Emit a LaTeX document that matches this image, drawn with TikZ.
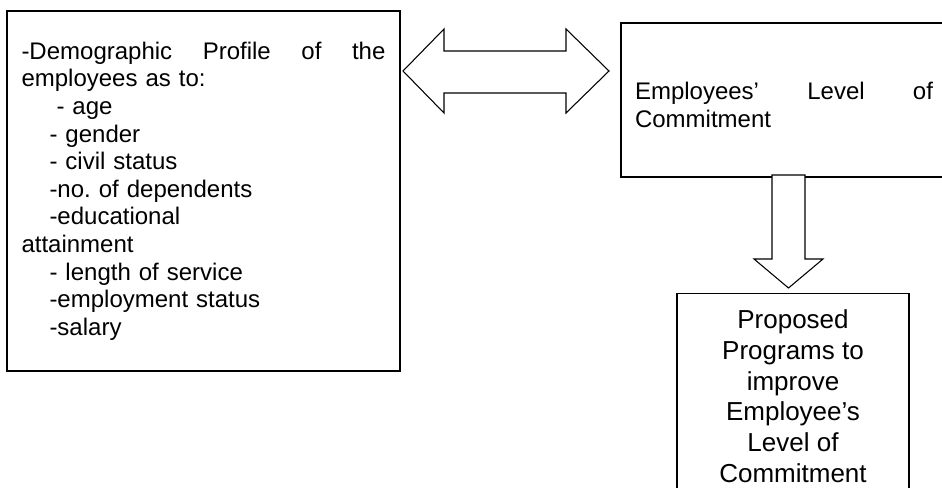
\documentclass[tikz,border=0pt]{standalone}
\usepackage{fontspec}
\setmainfont{Liberation Sans}
\frenchspacing
\begin{document}
\begin{tikzpicture}[x=0.75pt,y=-0.75pt,
  box/.style={draw=black, rectangle, align=left, inner ysep=0pt},
  bodytext/.style={font=\fontsize{18}{20.7}\selectfont},
  blockarrow/.style={draw=black, line width=0.8pt, fill=white, line join=miter}]
\useasboundingbox (0,0) rectangle (942,488);
% profile of the employees
\node [box, bodytext, line width=1.5pt, text width=273pt, inner xsep=10.9pt,
  minimum width=294.8pt, minimum height=270pt] (demog) at (203.5,191)
  {\makebox[\linewidth]{-Demographic\hfill Profile\hfill of\hfill the}\\
   employees as to:\\
   \hspace*{26.25pt}- age\\
   \hspace*{21pt}- gender\\
   \hspace*{21pt}- civil status\\
   \hspace*{21pt}-no. of dependents\\
   \hspace*{21pt}-educational\\
   attainment\\
   \hspace*{21pt}- length of service\\
   \hspace*{21pt}-employment status\\
   \hspace*{21pt}-salary};
% level of commitment (runs past the right margin)
\node [box, bodytext, line width=1.5pt, text width=235pt, inner xsep=10.5pt,
  minimum width=256pt, minimum height=115.5pt] (commit) at (791.7,100)
  {\mbox{}\\
   \makebox[223.5pt]{Employees’\hfill Level\hfill of}\\
   Commitment};
% proposed programs
\node [box, line width=1pt, anchor=north, align=center, inner ysep=12pt,
  minimum width=174pt, font=\fontsize{19.5}{23.1}\selectfont] (prog) at (793,293)
  {Proposed\\ Programs to\\ improve\\ Employee’s\\ Level of\\ Commitment};
% block arrows
\draw [blockarrow] (403,71) -- (444,29) -- (444,51) -- (566,51) -- (566,29) -- (609,71)
  -- (566,113) -- (566,93) -- (444,93) -- (444,113) -- cycle;
\draw [blockarrow] (772,175) -- (805,175) -- (805,259) -- (823,259) -- (788.5,288)
  -- (754,259) -- (772,259) -- cycle;
\end{tikzpicture}
\end{document}
